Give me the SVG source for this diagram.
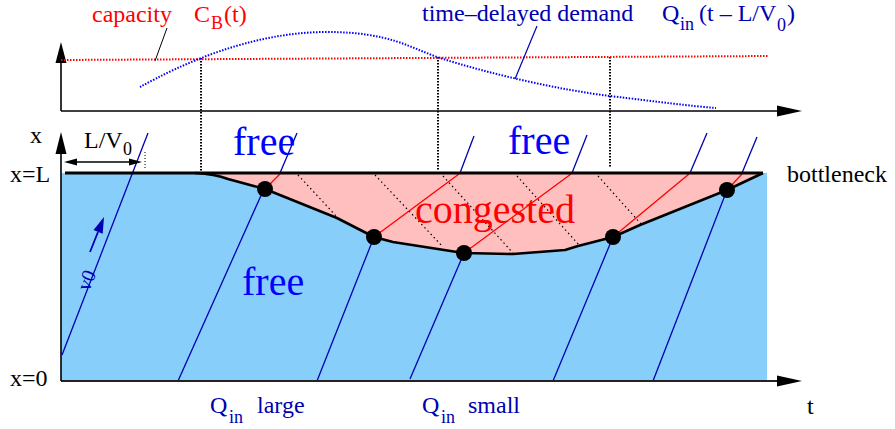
<svg xmlns="http://www.w3.org/2000/svg" width="895" height="429" viewBox="0 0 895 429">
<style>
text{font-family:"Liberation Serif","Times New Roman",serif;font-size:24px}
.k{fill:#000}
.db{fill:#0000b0}
.fr{fill:#0000ff;font-size:40px}
.rd{fill:#ff0000}
.sub{font-size:18px}
.ax{stroke:#000;stroke-width:1.6;fill:none}
.ch{stroke:#0000b0;stroke-width:1.3;fill:none}
.rl{stroke:#ff0000;stroke-width:1.3;fill:none}
.dt{stroke:#000;stroke-width:1.2;stroke-dasharray:1.5 3;fill:none}
.vd{stroke:#000;stroke-width:2;stroke-dasharray:1.5 1.5;fill:none}
.dot{fill:#000}
</style>
<g id="regions">
<rect x="61" y="173" width="706" height="208" fill="#87cefa"/>
<path d="M195,173 Q215,174 228,179 L265,189 L337,218 L374,237 L393,242 L457,252 L464,253 L513,254 L565,250 L578,246 L613,237 L640,225 L727,190 L763,173 Z" fill="#ffbfbf"/>
</g>
<g id="connectors">
<g id="congested-dotted">
<line class="dt" x1="298" y1="175" x2="338" y2="218"/>
<line class="dt" x1="375" y1="175" x2="443" y2="247"/>
<line class="dt" x1="443" y1="176" x2="513" y2="253"/>
<line class="dt" x1="517" y1="176" x2="579" y2="245"/>
<line class="dt" x1="598" y1="176" x2="642" y2="225"/>
</g>
<g id="characteristics">
<line class="ch" x1="62" y1="355" x2="148" y2="133"/>
<line class="ch" x1="178" y1="381" x2="263" y2="191"/>
<line class="ch" x1="280" y1="173" x2="297" y2="133"/>
<line class="ch" x1="317" y1="381" x2="374" y2="237"/>
<line class="ch" x1="460" y1="173" x2="474" y2="136"/>
<line class="ch" x1="410" y1="379" x2="464" y2="253"/>
<line class="ch" x1="572" y1="173" x2="587" y2="135"/>
<line class="ch" x1="553" y1="381" x2="613" y2="237"/>
<line class="ch" x1="690" y1="173" x2="707" y2="133"/>
<line class="ch" x1="653" y1="381" x2="727" y2="190"/>
<line class="ch" x1="742" y1="173" x2="757" y2="137"/>
</g>
<g id="congested-red">
<line class="rl" x1="265" y1="189" x2="280" y2="174"/>
<line class="rl" x1="374" y1="237" x2="459" y2="174"/>
<line class="rl" x1="464" y1="253" x2="571" y2="174"/>
<line class="rl" x1="613" y1="237" x2="689" y2="174"/>
<line class="rl" x1="727" y1="190" x2="742" y2="174"/>
</g>
<path d="M195,173 Q215,174 228,179 L265,189 L337,218 L374,237 L393,242 L457,252 L464,253 L513,254 L565,250 L578,246 L613,237 L640,225 L727,190 L763,173" fill="none" stroke="#000" stroke-width="2.6" stroke-linejoin="round"/>
<line x1="65" y1="173" x2="763" y2="173" stroke="#000" stroke-width="3"/>
<g id="v0-arrow">
<line x1="90" y1="252" x2="98" y2="232" stroke="#0000b0" stroke-width="1.8"/>
<polygon points="104,217 102.7,233.7 93.5,229.9" fill="#0000b0"/>
</g>
<g id="lv0-arrow">
<line x1="70" y1="162" x2="135" y2="162" stroke="#000" stroke-width="1.3"/>
<polygon points="64,162 77,158.5 77,165.5" fill="#000"/>
<polygon points="142,162 129,158.5 129,165.5" fill="#000"/>
<line x1="145" y1="152" x2="145" y2="168" stroke="#000" stroke-width="1" stroke-dasharray="1 2"/>
</g>
<g id="vertical-markers">
<line class="vd" x1="201" y1="58" x2="201" y2="171"/>
<line class="vd" x1="438" y1="57" x2="438" y2="171"/>
<line class="vd" x1="610" y1="57" x2="610" y2="168"/>
</g>
</g>
<g id="dots">
<circle class="dot" cx="265" cy="189" r="8"/>
<circle class="dot" cx="374" cy="237" r="8"/>
<circle class="dot" cx="464" cy="253" r="8"/>
<circle class="dot" cx="613" cy="237" r="8"/>
<circle class="dot" cx="727" cy="190" r="8"/>
</g>
<g id="top-plot">
<line class="ax" x1="61" y1="111" x2="61" y2="60"/>
<polygon points="61,42 55.5,63 66.5,63" fill="#000"/>
<line class="ax" x1="61" y1="111" x2="779" y2="111"/>
<polygon points="802,111 777,105.5 777,116.5" fill="#000"/>
<line x1="61" y1="60" x2="769" y2="56" stroke="#ff0000" stroke-width="2" stroke-dasharray="1.5 1.5"/>
<path d="M140,87 C180,65 250,32 327,32 C390,32 410,48 440,58 C490,74 560,90 610,96 C660,102 690,106 716,108" fill="none" stroke="#0000ff" stroke-width="2" stroke-dasharray="1.5 1.5"/>
<line x1="167" y1="28" x2="155" y2="61" stroke="#000" stroke-width="1"/>
<line x1="537" y1="26" x2="515" y2="79" stroke="#0000b0" stroke-width="1.2"/>
</g>
<g id="main-axes">
<line x1="61" y1="381" x2="779" y2="381" stroke="#222" stroke-width="2"/>
<polygon points="802,381 777,375.5 777,386.5" fill="#000"/>
<line class="ax" x1="61" y1="381" x2="61" y2="150"/>
<polygon points="61,132 55.5,154 66.5,154" fill="#000"/>
</g>
<g id="labels">
<text class="rd" x="92" y="22">capacity</text>
<text class="rd" x="194" y="22">C</text>
<text class="rd sub" x="211" y="29">B</text>
<text class="rd" x="224" y="22">(t)</text>
<text class="db" x="422" y="21">time–delayed demand</text>
<text class="db" x="662" y="21">Q</text>
<text class="db sub" x="680" y="30">in</text>
<text class="db" x="699" y="21">(t – L/V</text>
<text class="db sub" x="777" y="31">0</text>
<text class="db" x="787" y="21">)</text>
<text class="k" x="30" y="143">x</text>
<text class="k" x="84" y="148">L/V</text>
<text class="k sub" x="123" y="155">0</text>
<text class="k" x="10" y="182">x=L</text>
<text class="k" x="10" y="386">x=0</text>
<text class="k" x="787" y="182">bottleneck</text>
<text class="k" x="807" y="414">t</text>
<text class="fr" x="233" y="155">free</text>
<text class="fr" x="508" y="154">free</text>
<text class="fr" x="242" y="295">free</text>
<text class="rd" x="415" y="223" style="font-size:40px">congested</text>
<text class="db" transform="translate(89,292) rotate(-68)" style="font-size:20px">v0</text>
<text class="db" x="210" y="413">Q</text>
<text class="db sub" x="229" y="423">in</text>
<text class="db" x="257" y="413">large</text>
<text class="db" x="422" y="413">Q</text>
<text class="db sub" x="441" y="423">in</text>
<text class="db" x="468" y="413">small</text>
</g>
</svg>
